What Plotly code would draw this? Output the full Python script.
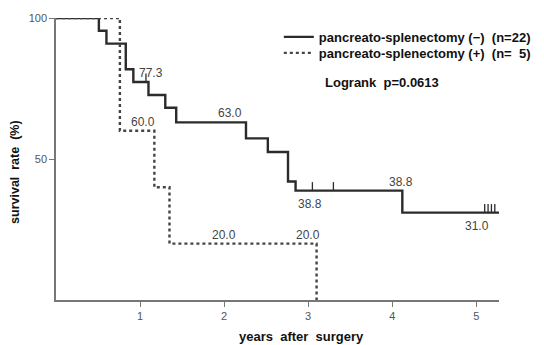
import plotly.graph_objects as go

# --- Data ---
# pancreato-splenectomy (-) n=22 : step times (years) and survival (%)
neg_t = [0, 0.51, 0.60, 0.83, 0.92, 1.10, 1.30, 1.43, 2.26, 2.52, 2.76, 2.85, 4.12, 5.27]
neg_s = [100, 95.5, 90.9, 81.8, 77.3, 72.7, 68.2, 63.0, 57.3, 52.5, 42.0, 38.8, 31.0, 31.0]
neg_cens_t = [1.07, 3.05, 3.30, 5.10, 5.14, 5.18, 5.22]
neg_cens_s = [77.3, 38.8, 38.8, 31.0, 31.0, 31.0, 31.0]

# pancreato-splenectomy (+) n=5
pos_t = [0, 0.76, 1.17, 1.35, 3.10]
pos_s = [100, 60.0, 40.0, 20.0, 0.0]

# value labels on the curves
lab_t = [1.13, 2.07, 1.04, 2.00, 3.00, 3.02, 4.11, 5.01]
lab_s = [77.3, 63.0, 60.0, 20.0, 20.0, 38.8, 38.8, 31.0]
lab_txt = ["77.3", "63.0", "60.0", "20.0", "20.0", "38.8", "38.8", "31.0"]
lab_pos = ["above", "above", "above", "above", "above", "below", "above", "below"]

x_ticks = [1, 2, 3, 4, 5]
y_ticks = [50, 100]

FONT = "Liberation Sans, Arial, sans-serif"

fig = go.Figure()

fig.add_trace(go.Scatter(
    x=neg_t, y=neg_s, mode="lines", line_shape="hv",
    line=dict(color="#2b2b2b", width=2.4),
    name="<b>pancreato-splenectomy (−)  (n=22)</b>", legend="legend",
))
fig.add_trace(go.Scatter(
    x=pos_t, y=pos_s, mode="lines", line_shape="hv",
    line=dict(color="#444444", width=2.4, dash="dot"),
    name="<b>pancreato-splenectomy (+)  (n=  5)</b>", legend="legend2",
))
# censor marks (upward ticks)
fig.add_trace(go.Scatter(
    x=neg_cens_t, y=neg_cens_s, mode="markers",
    marker=dict(size=1, color="#2b2b2b"),
    error_y=dict(type="constant", symmetric=False, value=3.0, valueminus=0,
                 width=0, thickness=1.3, color="#2b2b2b"),
    showlegend=False, hoverinfo="skip",
))

for t, s, txt, p in zip(lab_t, lab_s, lab_txt, lab_pos):
    fig.add_annotation(
        x=t, y=s, text=txt, showarrow=False,
        yanchor="bottom" if p == "above" else "top",
        yshift=0 if p == "above" else -4,
        font=dict(family=FONT, size=12, color="#444444"),
    )

fig.add_annotation(
    xref="paper", yref="paper", x=0.603, y=0.773, xanchor="left", yanchor="middle",
    text="<b>Logrank  p=0.0613</b>", showarrow=False,
    font=dict(family=FONT, size=13, color="#111111"),
)
# axis titles
fig.add_annotation(
    xref="paper", yref="paper", x=0.555, y=-0.128, xanchor="center", yanchor="middle",
    text="<b>years  after  surgery</b>", showarrow=False,
    font=dict(family=FONT, size=13, color="#111111"),
)
fig.add_annotation(
    xref="paper", yref="paper", x=-0.0926, y=0.454, xanchor="center", yanchor="middle",
    text="<b>survival  rate  (%)</b>", showarrow=False, textangle=-90,
    font=dict(family=FONT, size=12.5, color="#111111"),
)

leg_common = dict(
    xanchor="left", yanchor="middle",
    font=dict(family=FONT, size=13, color="#111111"),
    bgcolor="rgba(0,0,0,0)", itemwidth=30,
)

fig.update_layout(
    width=536, height=337,
    margin=dict(l=48, r=45, t=10, b=45, autoexpand=False),
    paper_bgcolor="white", plot_bgcolor="white",
    font=dict(family=FONT, color="#111111"),
    legend=dict(x=0.503, y=0.933, **leg_common),
    legend2=dict(x=0.503, y=0.876, **leg_common),
    xaxis=dict(
        range=[0, 5.27], tickvals=x_ticks, ticktext=[str(v) for v in x_ticks],
        automargin=False,
        showgrid=False, zeroline=False, showline=True, linecolor="#777777", linewidth=1.5,
        ticks="outside", ticklen=5, tickcolor="#777777", tickwidth=1.2,
        tickfont=dict(family=FONT, size=11, color="#555555"),
    ),
    yaxis=dict(
        range=[0, 100], tickvals=y_ticks, ticktext=[str(v) for v in y_ticks],
        automargin=False,
        showgrid=False, zeroline=False, showline=True, linecolor="#777777", linewidth=1.5,
        ticks="outside", ticklen=5, tickcolor="#777777", tickwidth=1.2,
        tickfont=dict(family=FONT, size=11, color="#555555"),
    ),
)

fig.write_html("out.html")
